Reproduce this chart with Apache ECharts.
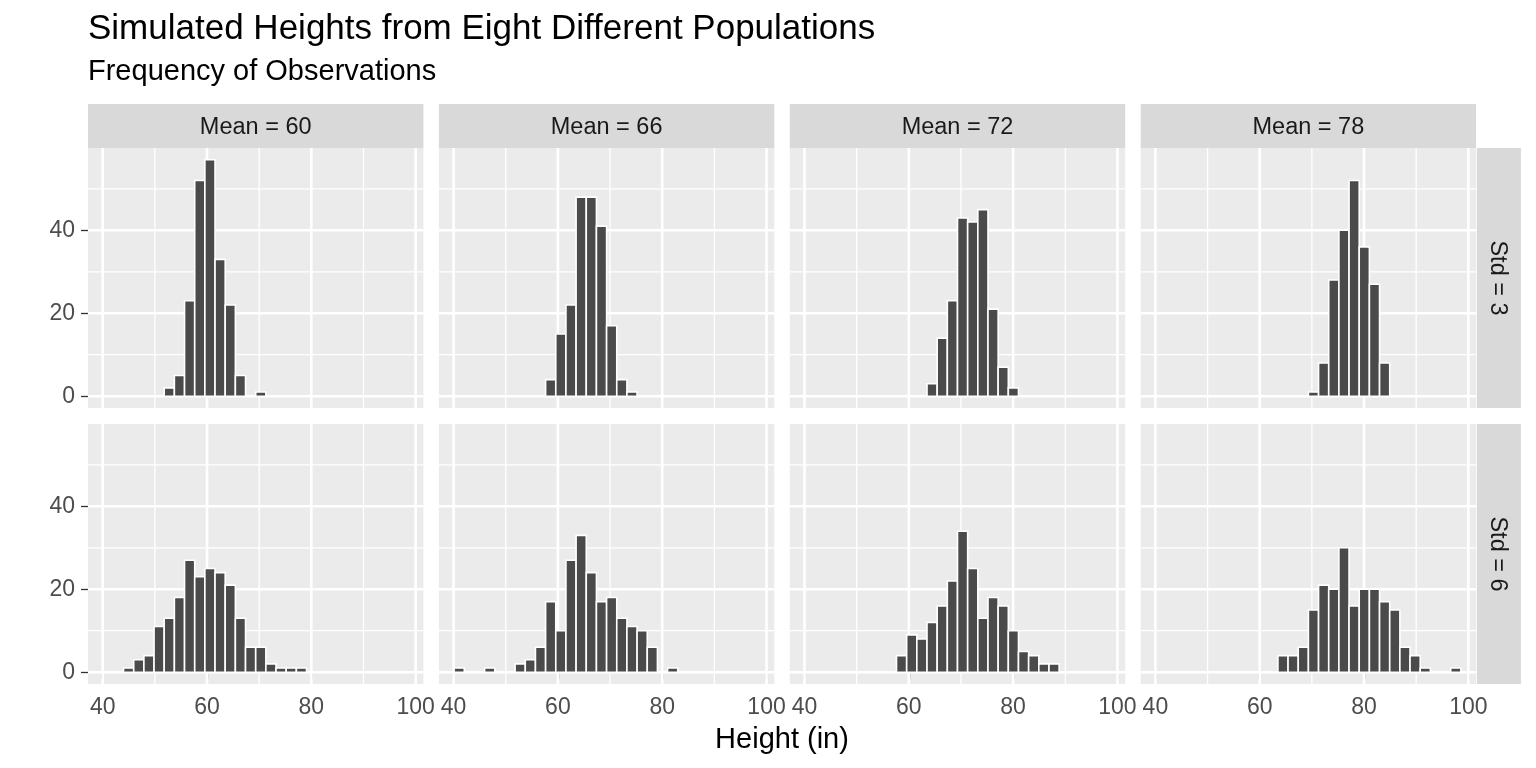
<!DOCTYPE html>
<html><head><meta charset="utf-8">
<script src="https://cdn.jsdelivr.net/npm/echarts@6/dist/echarts.min.js"></script>
<style>html,body{margin:0;padding:0;background:#fff}#c{width:1536px;height:768px}</style>
</head><body><div id="c"></div><script>
// ---- data ----
const titleText = 'Simulated Heights from Eight Different Populations';
const subtitleText = 'Frequency of Observations';
const xAxisTitle = 'Height (in)';
const meanLabels = ['Mean = 60', 'Mean = 66', 'Mean = 72', 'Mean = 78'];
const stdLabels = ['Std = 3', 'Std = 6'];
const xTicks = [40, 60, 80, 100];
const xMinorTicks = [50, 70, 90];
const yTicks = [0, 20, 40];
const yMinorTicks = [10, 30, 50];
const binStart = 40.10;
const binWidth = 1.949;
// counts per bin (30 bins), row Std=3
const counts_sd3_m60 = [0,0,0,0,0,0,2,5,23,52,57,33,22,5,0,1,0,0,0,0,0,0,0,0,0,0,0,0,0,0];
const counts_sd3_m66 = [0,0,0,0,0,0,0,0,0,4,15,22,48,48,41,17,4,1,0,0,0,0,0,0,0,0,0,0,0,0];
const counts_sd3_m72 = [0,0,0,0,0,0,0,0,0,0,0,0,3,14,23,43,42,45,21,7,2,0,0,0,0,0,0,0,0,0];
const counts_sd3_m78 = [0,0,0,0,0,0,0,0,0,0,0,0,0,0,0,1,8,28,40,52,36,27,8,0,0,0,0,0,0,0];
// row Std=6
const counts_sd6_m60 = [0,0,1,3,4,11,13,18,27,23,25,24,21,13,6,6,2,1,1,1,0,0,0,0,0,0,0,0,0,0];
const counts_sd6_m66 = [1,0,0,1,0,0,2,3,6,17,10,27,33,24,17,18,13,11,10,6,0,1,0,0,0,0,0,0,0,0];
const counts_sd6_m72 = [0,0,0,0,0,0,0,0,0,4,9,8,12,16,22,34,25,13,18,16,10,5,4,2,2,0,0,0,0,0];
const counts_sd6_m78 = [0,0,0,0,0,0,0,0,0,0,0,0,4,4,6,15,21,20,30,16,20,20,17,15,6,4,1,0,0,1];
const panelCounts = [
  [counts_sd3_m60, counts_sd3_m66, counts_sd3_m72, counts_sd3_m78],
  [counts_sd6_m60, counts_sd6_m66, counts_sd6_m72, counts_sd6_m78]
];

// ---- layout ----
const FONT = '"Liberation Sans", Arial, Helvetica, sans-serif';
const xMin = 37.18, xMax = 101.49, yMin = -2.85, yMax = 59.85;
const panelLeft0 = 88, panelW = 335.4, stepX = 350.9;
const rowTops = [148, 424], panelH = 260;
const stripTop = 104, stripH = 44;
const rStripX = 1476.9, rStripW = 44;

const chart = echarts.init(document.getElementById('c'), null, {renderer: 'canvas'});
const grids = [], xAxes = [], yAxes = [], series = [], graphics = [];

for (let r = 0; r < 2; r++) {
  for (let c = 0; c < 4; c++) {
    const gi = grids.length;
    grids.push({left: panelLeft0 + c * stepX, top: rowTops[r], width: panelW, height: panelH,
      show: true, backgroundColor: '#EBEBEB', borderWidth: 0, containLabel: false});
    xAxes.push({type: 'value', gridIndex: gi, min: xMin, max: xMax,
      axisLine: {show: false}, splitLine: {show: false},
      axisTick: {show: r === 1, customValues: xTicks, length: 7, lineStyle: {color: '#333333', width: 1.3}},
      axisLabel: {show: r === 1, customValues: xTicks, fontSize: 23, color: '#4D4D4D', margin: 12, fontFamily: FONT}});
    yAxes.push({type: 'value', gridIndex: gi, min: yMin, max: yMax,
      axisLine: {show: false}, splitLine: {show: false},
      axisTick: {show: c === 0, customValues: yTicks, length: 7, lineStyle: {color: '#333333', width: 1.3}},
      axisLabel: {show: c === 0, customValues: yTicks, fontSize: 23, color: '#4D4D4D', margin: 13, fontFamily: FONT}});
    // gridlines: kind 0 x-major, 1 x-minor, 2 y-major, 3 y-minor
    const gl = [].concat(
      xTicks.map(v => [v, 0]), xMinorTicks.map(v => [v, 1]),
      yTicks.map(v => [v, 2]), yMinorTicks.map(v => [v, 3]));
    series.push({type: 'custom', xAxisIndex: gi, yAxisIndex: gi, silent: true, z: 1,
      data: gl, encode: {x: 0, y: 1},
      renderItem: function (params, api) {
        const v = api.value(0), kind = api.value(1);
        const cs = params.coordSys;
        if (kind < 2) {
          const x = api.coord([v, 0])[0];
          return {type: 'line', shape: {x1: x, y1: cs.y, x2: x, y2: cs.y + cs.height},
            style: {stroke: '#FFFFFF', lineWidth: kind === 0 ? 2.6 : 1.3}};
        }
        const y = api.coord([60, v])[1];
        return {type: 'line', shape: {x1: cs.x, y1: y, x2: cs.x + cs.width, y2: y},
          style: {stroke: '#FFFFFF', lineWidth: kind === 2 ? 2.6 : 1.3}};
      }});
    const data = panelCounts[r][c].map((n, i) => [binStart + i * binWidth, binStart + (i + 1) * binWidth, n])
      .filter(d => d[2] > 0);
    series.push({type: 'custom', xAxisIndex: gi, yAxisIndex: gi, silent: true, z: 2,
      data: data, encode: {x: [0, 1], y: 2},
      renderItem: function (params, api) {
        const p0 = api.coord([api.value(0), api.value(2)]);
        const p1 = api.coord([api.value(1), 0]);
        return {type: 'rect', shape: {x: p0[0], y: p0[1], width: p1[0] - p0[0], height: p1[1] - p0[1]},
          style: {fill: '#4A4A4A', stroke: '#FFFFFF', lineWidth: 1.6}};
      }});
  }
}

// strips
for (let c = 0; c < 4; c++) {
  const x = panelLeft0 + c * stepX;
  graphics.push({type: 'rect', shape: {x: x, y: stripTop, width: panelW, height: stripH}, style: {fill: '#D9D9D9'}, silent: true});
  graphics.push({type: 'text', x: x + panelW / 2, y: stripTop + stripH / 2 + 1.5,
    style: {text: meanLabels[c], font: '23.5px ' + FONT, fill: '#1A1A1A', align: 'center', verticalAlign: 'middle',
      textAlign: 'center', textVerticalAlign: 'middle'}, silent: true});
}
for (let r = 0; r < 2; r++) {
  graphics.push({type: 'rect', shape: {x: rStripX, y: rowTops[r], width: rStripW, height: panelH}, style: {fill: '#D9D9D9'}, silent: true});
  graphics.push({type: 'text', x: rStripX + rStripW / 2 - 1, y: rowTops[r] + panelH / 2, rotation: -Math.PI / 2,
    style: {text: stdLabels[r], font: '23.5px ' + FONT, fill: '#1A1A1A', align: 'center', verticalAlign: 'middle',
      textAlign: 'center', textVerticalAlign: 'middle'}, silent: true});
}
graphics.push({type: 'text', x: 88, y: 29,
  style: {text: titleText, font: '35px ' + FONT, fill: '#000000', align: 'left', verticalAlign: 'middle',
    textAlign: 'left', textVerticalAlign: 'middle'}, silent: true});
graphics.push({type: 'text', x: 88, y: 72,
  style: {text: subtitleText, font: '29px ' + FONT, fill: '#000000', align: 'left', verticalAlign: 'middle',
    textAlign: 'left', textVerticalAlign: 'middle'}, silent: true});
graphics.push({type: 'text', x: 782, y: 740,
  style: {text: xAxisTitle, font: '29px ' + FONT, fill: '#000000', align: 'center', verticalAlign: 'middle',
    textAlign: 'center', textVerticalAlign: 'middle'}, silent: true});

chart.setOption({
  animation: false,
  backgroundColor: '#FFFFFF',
  grid: grids, xAxis: xAxes, yAxis: yAxes, series: series,
  graphic: {elements: graphics}
});
</script></body></html>
